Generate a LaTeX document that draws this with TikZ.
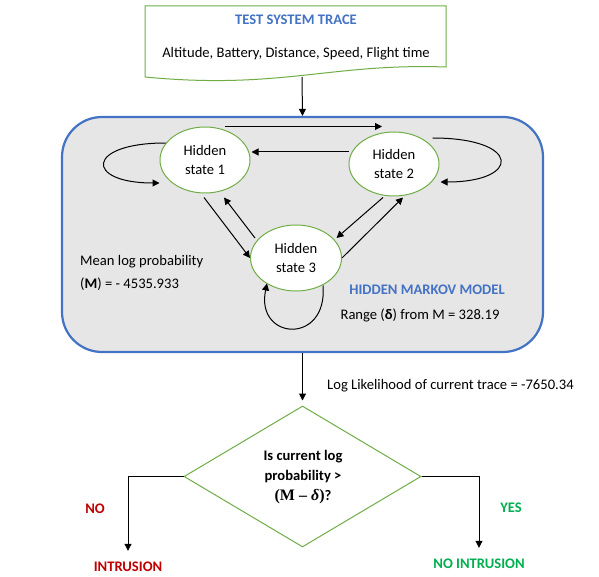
\documentclass[tikz,border=0pt]{standalone}
\usepackage{fontspec}
\setmainfont{Carlito}
\newfontfamily\serifb{Liberation Serif}
\usetikzlibrary{shapes.geometric,arrows.meta,calc}
\definecolor{hblue}{HTML}{4472C4}
\definecolor{hgreen}{HTML}{70AD47}
\definecolor{hgray}{HTML}{E7E6E6}
\definecolor{hred}{HTML}{C00000}
\definecolor{yesgreen}{HTML}{00B050}
\begin{document}
\begin{tikzpicture}[x=1pt,y=-1pt,
  txt/.style={font=\fontsize{14.6}{18}\selectfont, inner sep=0pt, text height=11pt, text depth=1pt},
  btxt/.style={txt, font=\fontsize{14.6}{18}\selectfont\bfseries},
  mtxt/.style={inner sep=0pt, font=\fontsize{14.6}{20}\selectfont},
  state/.style={ellipse, draw=hgreen, line width=1pt, fill=white, minimum width=90pt,
    minimum height=66pt, inner sep=0pt, align=center, font=\fontsize{14.6}{19}\selectfont},
  hmmbox/.style={rectangle, rounded corners=40pt, draw=hblue, line width=2.2pt, fill=hgray,
    minimum width=481pt, minimum height=235pt, inner sep=0pt},
  decision/.style={diamond, draw=hgreen, line width=1pt, fill=white, minimum width=237pt,
    minimum height=141pt, inner sep=0pt},
  arr/.style={-{Triangle[length=7pt,width=7pt]}, line width=1pt, black}]
\useasboundingbox (0,0) rectangle (599,577);
\fill[white] (0,0) rectangle (599,577);

% top document shape
\draw[hgreen, line width=1pt, fill=white] (145,6) -- (446,6) -- (446,67)
  .. controls (330,63) and (280,90) .. (145,77) -- cycle;
\node[btxt, text=hblue] (tracetitle) at (296,20) {TEST SYSTEM TRACE};
\node[txt] (traceitems) at (296,53) {Altitude, Battery, Distance, Speed, Flight time};
\coordinate (wavebot) at (302,77);

% HMM box
\node[hmmbox] (hmm) at (302.5,234.5) {};
\draw[arr] (wavebot) -- (hmm.north);

\node[state] (s1) at (205,160) {Hidden\\state 1};
\node[state, minimum height=64pt] (s2) at (394,164) {Hidden\\state 2};
\node[state, minimum width=91pt] (s3) at (296,258) {Hidden\\state 3};

\draw[arr] ($(s1.north)+(20,0)$) -- ($(s2.north)+(-12,-5)$);
\draw[arr] ($(s2.west)+(0,-12)$) -- ($(s1.east)+(1,-8)$);
\draw[arr] ($(s1.west)+(6,-17)$) .. controls +(-80,0) and +(-75,0) .. ($(s1.west)+(0,23)$);
\draw[arr] ($(s2.east)+(-7,-26)$) .. controls +(89,0) and +(81,0) .. ($(s2.east)+(1,18)$);
\draw[arr] ($(s1.south)+(-1,4)$) -- (s3.west);
\draw[arr] ($(s3.west)+(5,-20)$) -- ($(s1.south)+(19,4)$);
\draw[arr] ($(s2.south)+(-11,1)$) -- ($(s3.east)+(-5.5,-20)$);
\draw[arr] (s3.east) -- ($(s2.south)+(9,1)$);
\draw[arr] ($(s3.south)+(27,-6)$) .. controls +(5,60) and +(-12,57) .. ($(s3.south)+(-29,-8)$);

\node[mtxt, anchor=west, align=left, font=\fontsize{14.6}{23}\selectfont] (mean) at (80,272.5)
  {Mean log probability\\(\textbf{M}) = - 4535.933};
\node[btxt, text=hblue] (hmmtitle) at (427,289) {HIDDEN MARKOV MODEL};
\node[txt] (range) at (420,314) {Range (\textbf{δ}) from M = 328.19};

% decision
\node[decision] (dec) at (302.5,476.5) {};
\draw[arr, shorten >=5pt] (hmm.south) -- (dec.north);
\node[txt, anchor=west] (ll) at (327,384) {Log Likelihood of current trace = -7650.34};
\node[mtxt, align=center, font=\fontsize{14.6}{20}\selectfont\bfseries] (q) at (303,477)
  {Is current log\\probability >\\{\serifb\fontsize{16}{20}\selectfont\bfseries (M – \textit{δ})}?};

\node[btxt, text=hred] (intr) at (128,566) {INTRUSION};
\node[btxt, text=yesgreen] (nointr) at (479,563) {NO INTRUSION};
\node[btxt, text=hred] (no) at (95,508) {NO};
\node[btxt, text=yesgreen] (yes) at (511,507) {YES};
\draw[arr, shorten >=9pt] (dec.west) -| (intr.north);
\draw[arr, shorten >=9pt] (dec.east) -| (nointr.north);
\end{tikzpicture}
\end{document}
